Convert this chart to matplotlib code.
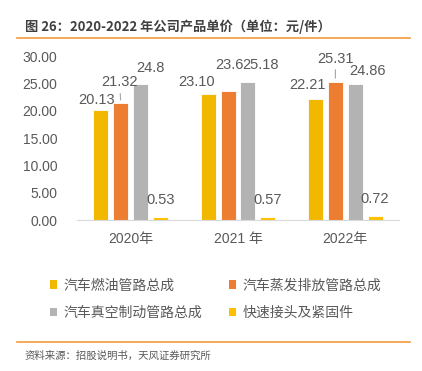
import matplotlib
matplotlib.use("Agg")
from matplotlib import pyplot as plt
from matplotlib.patches import Patch
import numpy as np

plt.rcParams['font.family'] = ['Liberation Sans', 'Noto Sans CJK SC', 'DejaVu Sans']

years = ["2020年", "2021 年", "2022年"]
series = ["汽车燃油管路总成", "汽车蒸发排放管路总成", "汽车真空制动管路总成", "快速接头及紧固件"]
fuel = [20.13, 23.10, 22.21]
evap = [21.32, 23.6, 25.31]
vacuum = [24.8, 25.18, 24.86]
joint = [0.53, 0.57, 0.72]
labels = [["20.13", "23.10", "22.21"],
          ["21.32", "23.6", "25.31"],
          ["24.8", "25.18", "24.86"],
          ["0.53", "0.57", "0.72"]]
colors = ["#F2B800", "#ED7D31", "#B3B3B3", "#FFC000"]

# label offsets in pixels from bar top (dx, dy)
offs = [[(-4, 10), (-12, 12), (-8, 14)],
        [(-1, 21), (1, 26), (0, 23)],
        [(10, 16), (13, 17), (12, 13)],
        [(0, 17), (0, 17), (0, 17)]]
leader = [[False, False, False], [True, False, True], [False] * 3, [False] * 3]

fig = plt.figure(figsize=(4.22, 3.71), dpi=100)
ax = fig.add_axes([77 / 422, 1 - 220 / 371, 322 / 422, 164 / 371])

x = np.arange(len(years))
step = 0.185
w = 0.14
data = [fuel, evap, vacuum, joint]
for i, vals in enumerate(data):
    xs = x + (i - 1.5) * step
    ax.bar(xs, vals, w, color=colors[i], edgecolor='white', linewidth=0.6)
    for j, v in enumerate(vals):
        dx, dy = offs[i][j]
        ap = None
        if leader[i][j]:
            ap = dict(arrowstyle='-', color='#A6A6A6', lw=0.8, shrinkA=1, shrinkB=2.5)
        ax.annotate(labels[i][j], xy=(xs[j], v), xytext=(dx, dy),
                    textcoords='offset pixels', ha='center', va='center',
                    fontsize=10.5, color='#595959', arrowprops=ap)

ax.set_xlim(-0.5, 2.5)
ax.set_ylim(0, 30)
ax.set_yticks(np.arange(0, 31, 5))
ax.set_yticklabels(["%.2f" % t for t in np.arange(0, 31, 5)])
ax.set_xticks(x)
ax.set_xticklabels(years)
ax.tick_params(axis='both', length=0, labelsize=10, colors='#595959')
ax.tick_params(axis='x', pad=9)
ax.tick_params(axis='y', pad=14)
for s in ['top', 'right', 'left']:
    ax.spines[s].set_visible(False)
ax.spines['bottom'].set_color('#D9D9D9')

# legend fills by column, so reorder to read row by row
order = [0, 2, 1, 3]
handles = [Patch(facecolor=colors[k], edgecolor='none') for k in order]
fig.legend(handles, [series[k] for k in order], ncol=2, loc='center left',
           bbox_to_anchor=(37 / 422, 1 - 299 / 371), frameon=False,
           prop={'family': ['Noto Sans CJK SC'], 'size': 10},
           labelcolor='#595959', handlelength=0.55, handleheight=0.55,
           handletextpad=0.45, columnspacing=1.9, labelspacing=0.95)

fig.text(25 / 422, 1 - 27 / 371, "图 26：2020-2022 年公司产品单价（单位：元/件）",
         fontsize=9.5, fontweight='bold', color='#404040', va='center',
         family=['Noto Sans CJK SC', 'DejaVu Sans'])
fig.add_artist(plt.Line2D([17 / 422, 410 / 422], [1 - 38 / 371] * 2, color='#F39A3C', lw=1.2))
fig.add_artist(plt.Line2D([17 / 422, 410 / 422], [1 - 342 / 371] * 2, color='#F39A3C', lw=1.2))
fig.text(25 / 422, 1 - 356 / 371, "资料来源：招股说明书，天风证券研究所",
         fontsize=7.5, color='#595959', va='center', family=['Noto Sans CJK SC'])

fig.savefig("out.png", dpi=100)
